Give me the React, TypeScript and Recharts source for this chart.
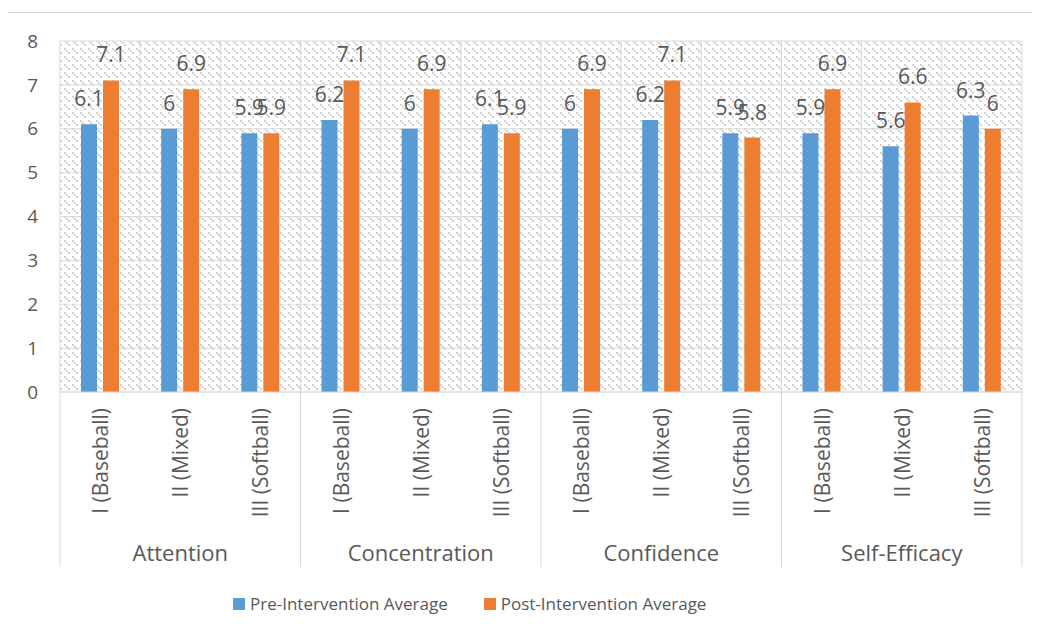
import { Bar, BarChart, CartesianGrid, LabelList, Legend, XAxis, YAxis } from 'recharts'

const groups = ['Attention', 'Concentration', 'Confidence', 'Self-Efficacy']
const teams = ['I (Baseball)', 'II (Mixed)', 'III (Softball)']
const preValues = [6.1, 6, 5.9, 6.2, 6, 6.1, 6, 6.2, 5.9, 5.9, 5.6, 6.3]
const postValues = [7.1, 6.9, 5.9, 7.1, 6.9, 5.9, 6.9, 7.1, 5.8, 6.9, 6.6, 6]
const yTicks = [0, 1, 2, 3, 4, 5, 6, 7, 8]

const series = [
  { key: 'pre', name: 'Pre-Intervention Average', color: '#5b9bd5' },
  { key: 'post', name: 'Post-Intervention Average', color: '#ed7d31' },
] as const

const data = groups.flatMap((group, gi) =>
  teams.map((team, ti) => ({
    group,
    team,
    pre: preValues[gi * 3 + ti],
    post: postValues[gi * 3 + ti],
  })),
)

const FONT = '"Open Sans", sans-serif'
const TEXT = '#595959'
const GRID = '#d9d9d9'

const W = 1032
const H = 616
const margin = { top: 33, right: 18, left: 0, bottom: 10 }
const Y_W = 52
const PLOT_W = W - margin.left - margin.right - Y_W
const BAND = PLOT_W / data.length
const TEAM_AXIS_H = 136
const GROUP_AXIS_H = 39

function TeamTick({ x, y, payload }: any) {
  return (
    <text
      x={x}
      y={y}
      transform={`rotate(-90 ${x} ${y})`}
      textAnchor="end"
      dominantBaseline="central"
      fill={TEXT}
      fontSize={21}
      fontFamily={FONT}
    >
      {payload.value}
    </text>
  )
}

function GroupTick({ x, y, payload, index }: any) {
  const top = y - TEAM_AXIS_H
  const bottom = y + GROUP_AXIS_H
  return (
    <g>
      {index % 3 === 0 && (
        <line x1={x - BAND / 2} x2={x - BAND / 2} y1={top} y2={bottom} stroke={GRID} />
      )}
      {index === data.length - 1 && (
        <line x1={x + BAND / 2} x2={x + BAND / 2} y1={top} y2={bottom} stroke={GRID} />
      )}
      {index % 3 === 1 && (
        <text x={x} y={y + 33} textAnchor="middle" fill={TEXT} fontSize={22} fontFamily={FONT}>
          {payload.value}
        </text>
      )}
    </g>
  )
}

function LegendContent() {
  return (
    <div style={{ height: 47, paddingTop: 27, boxSizing: 'border-box', display: 'flex', marginLeft: 225 }}>
      {series.map((s, i) => (
        <div
          key={s.key}
          style={{ display: 'flex', alignItems: 'center', marginRight: i === 0 ? 36 : 0, height: 20 }}
        >
          <span style={{ width: 12, height: 12, background: s.color, marginRight: 5 }} />
          <span style={{ fontFamily: FONT, fontSize: 17, color: TEXT, lineHeight: '20px' }}>{s.name}</span>
        </div>
      ))}
    </div>
  )
}

export default function App() {
  return (
    <div style={{ position: 'relative', width: W, height: H }}>
      <div
        style={{
          position: 'absolute',
          left: -1,
          top: 4,
          width: 1100,
          height: 700,
          borderLeft: `1px solid ${GRID}`,
          borderTop: `1px solid ${GRID}`,
        }}
      />
      <svg width={0} height={0} style={{ position: 'absolute' }}>
        <defs>
          <pattern id="hatch" width={8} height={8} patternUnits="userSpaceOnUse">
            <rect width={8} height={8} fill="#ffffff" />
            <rect x={0} y={0} width={2} height={2} fill="#d0d0d0" />
            <rect x={2} y={2} width={2} height={2} fill="#d0d0d0" />
            <rect x={4} y={4} width={2} height={2} fill="#d0d0d0" />
          </pattern>
        </defs>
      </svg>
      <BarChart
        width={W}
        height={H}
        data={data}
        margin={margin}
        barSize={16}
        barGap={6}
        style={{ position: 'relative' }}
      >
        <CartesianGrid
          stroke={GRID}
          fill="url(#hatch)"
          fillOpacity={1}
          verticalCoordinatesGenerator={({ offset }: any) =>
            data.map((_, i) => offset.left + i * (offset.width / data.length)).concat(offset.left + offset.width)
          }
        />
        <XAxis
          xAxisId={0}
          dataKey="team"
          interval={0}
          height={TEAM_AXIS_H}
          tickLine={false}
          tickSize={0}
          tickMargin={16}
          axisLine={{ stroke: GRID }}
          tick={<TeamTick />}
        />
        <XAxis
          xAxisId="group"
          dataKey="group"
          interval={0}
          height={GROUP_AXIS_H}
          tickLine={false}
          tickSize={0}
          tickMargin={0}
          axisLine={false}
          tick={<GroupTick />}
        />
        <YAxis
          width={Y_W}
          domain={[0, 8]}
          ticks={yTicks}
          axisLine={false}
          tickLine={false}
          tickSize={20}
          tickMargin={2}
          tick={{ fontSize: 19, fill: TEXT, fontFamily: FONT }}
        />
        <Legend verticalAlign="bottom" content={<LegendContent />} />
        {series.map((s) => (
          <Bar key={s.key} dataKey={s.key} name={s.name} fill={s.color} isAnimationActive={false}>
            <LabelList
              dataKey={s.key}
              position="top"
              offset={18}
              fill={TEXT}
              fontSize={21}
              fontFamily={FONT}
            />
          </Bar>
        ))}
      </BarChart>
    </div>
  )
}
